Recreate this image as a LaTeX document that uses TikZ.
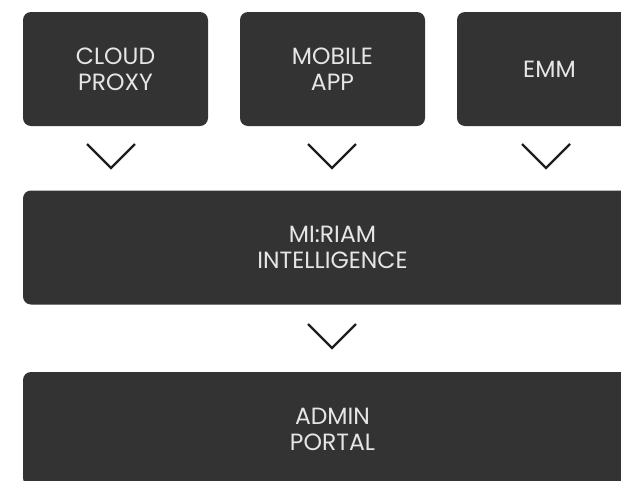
\documentclass[tikz,border=0pt]{standalone}
\usepackage{fontspec}
\setmainfont{Poppins}
\definecolor{boxfill}{HTML}{333333}
\definecolor{boxtext}{HTML}{E6E6E6}
\definecolor{chevcol}{HTML}{1E1E1E}
\begin{document}
\begin{tikzpicture}[x=1pt,y=-1pt,
  blk/.style={rectangle, rounded corners=8pt, fill=boxfill, draw=none,
    text=boxtext, align=center, inner sep=0pt,
    font=\fontsize{23.5}{26}\selectfont},
  smallblk/.style={blk, minimum width=185pt, minimum height=114pt},
  wideblk/.style={blk, minimum width=619pt, minimum height=114pt},
  chev/.style={draw=chevcol, line width=2.2pt, line cap=butt, line join=miter}]
\useasboundingbox (0,0) rectangle (621,480);
\begin{scope}
\clip (0,0) rectangle (621,480);
\node[smallblk] (cloud) at (115.5,69) {CLOUD\\PROXY};
\node[smallblk] (mobile) at (332.5,69) {MOBILE\\APP};
\node[smallblk] (emm) at (549.5,69) {EMM};
\node[wideblk] (miriam) at (332.5,247.5) {MI:RIAM\\INTELLIGENCE};
\node[wideblk] (admin) at (332.5,429) {ADMIN\\PORTAL};
\end{scope}
\coordinate (c1) at (111,168);
\coordinate (c2) at (332,168);
\coordinate (c3) at (546,168);
\coordinate (c4) at (332,348);
\foreach \c in {c1,c2,c3,c4}{
  \draw[chev] (\c) ++(-24,-24) -- (\c) -- ++(24,-24);
}
\end{tikzpicture}
\end{document}
